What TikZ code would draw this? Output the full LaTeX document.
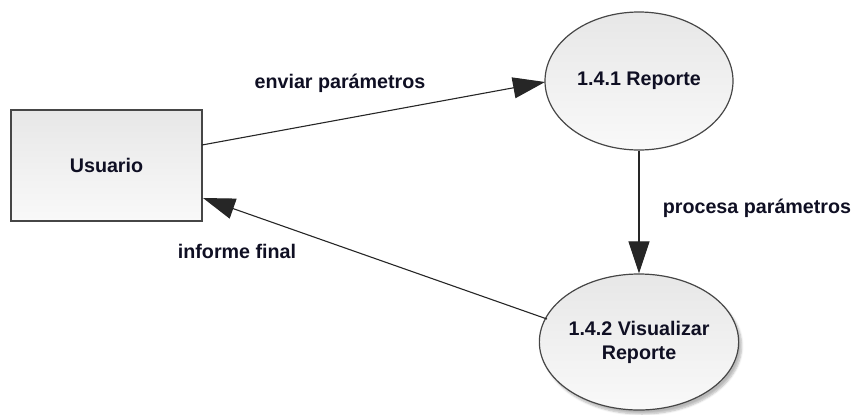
\documentclass[tikz,border=0pt]{standalone}
\usepackage{fontspec}
\setmainfont{Liberation Sans}
\usetikzlibrary{arrows.meta,shapes.geometric,shadows.blur}
\definecolor{txt}{RGB}{15,15,35}
\definecolor{edge}{RGB}{70,70,70}
\definecolor{fillA}{RGB}{231,231,231}
\definecolor{fillB}{RGB}{249,249,249}
\tikzset{
  lbl/.style={font=\fontsize{19.7bp}{24bp}\selectfont\bfseries, text=txt, inner sep=0pt, align=center},
  entity/.style={draw=edge, line width=1.2bp, top color=fillA, bottom color=fillB, minimum width=191bp, minimum height=111bp, inner sep=0pt, lbl},
  proc/.style={ellipse, draw=edge, line width=1.2bp, top color=fillA, bottom color=fillB, inner sep=0pt, lbl},
  flow/.style={draw=black!85, line width=1.1bp, -{Triangle[length=32bp,width=21bp]}},
}
\begin{document}
\begin{tikzpicture}[x=1bp,y=-1bp]
\useasboundingbox (0,0) rectangle (859,414);
\node[entity] (usr) at (106.5,165.5) {Usuario};
\node[proc, minimum width=188bp, minimum height=138bp] (rep) at (639,81) {1.4.1 Reporte};
\node[proc, minimum width=190bp, minimum height=136bp, blur shadow={shadow xshift=3bp, shadow yshift=-4bp, shadow blur steps=6, shadow opacity=28}] (vis) at (639,342) {1.4.2 Visualizar\\Reporte};
\coordinate (a1s) at (202,145);
\coordinate (a1e) at (545,82);
\coordinate (a3s) at (547,319);
\coordinate (a3e) at (203,198);
\draw[flow] (a1s) -- (a1e);
\draw[flow] (rep.south) -- (vis.north);
\draw[flow] (a3s) -- (a3e);
\node[lbl] (l1) at (340,83) {enviar parámetros};
\node[lbl] (l2) at (757,208) {procesa parámetros};
\node[lbl] (l3) at (237,251) {informe final};
\end{tikzpicture}
\end{document}
